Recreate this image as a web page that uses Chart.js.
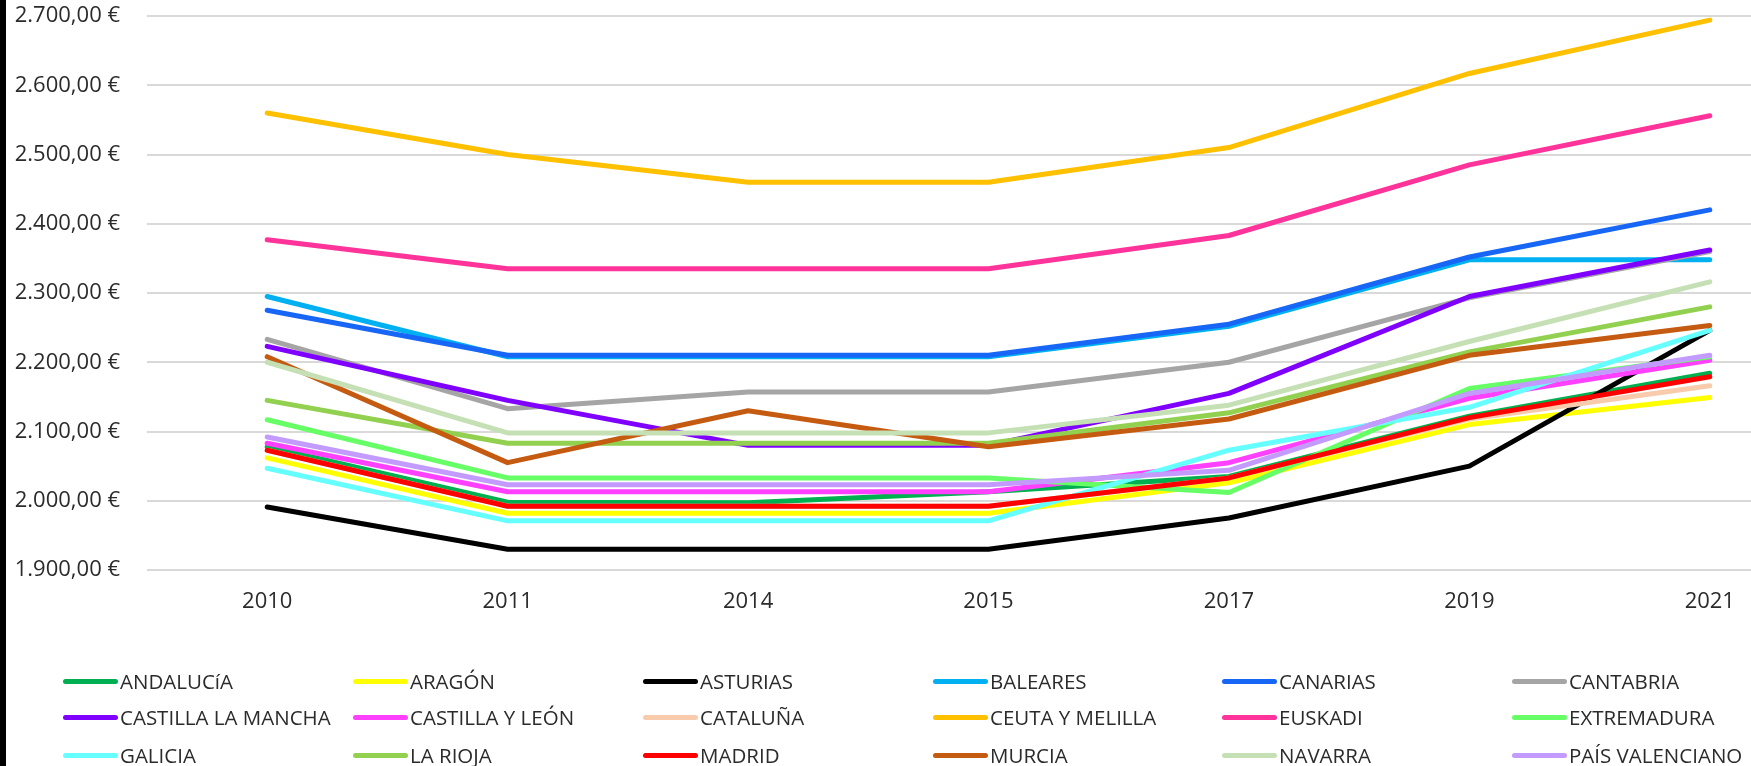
<!DOCTYPE html>
<html>
<head>
<meta charset="utf-8">
<script src="https://cdn.jsdelivr.net/npm/chart.js@4.4.1/dist/chart.umd.min.js"></script>
<style>
  html, body { margin: 0; padding: 0; background: #fff; overflow: hidden; }
  #wrap { position: relative; width: 1751px; height: 766px; overflow: hidden; }
  #chart { position: absolute; left: 0; top: 0; }
  #bar { position: absolute; left: 0; top: 0; width: 6px; height: 766px; background: #000; z-index: 5; }
  #legend { position: absolute; left: 0; top: 0; width: 1751px; height: 766px; pointer-events: none; }
  .item { position: absolute; display: flex; align-items: center; height: 28px;
          font-family: "Open Sans", sans-serif; font-size: 20.5px; color: #2b2b2b; white-space: nowrap; }
  .item span.sw { display: inline-block; width: 55px; height: 5px; border-radius: 3px; margin-right: 2px; }
</style>
</head>
<body>
<div id="wrap">
  <canvas id="chart" width="1830" height="640"></canvas>
  <div id="legend"></div>
  <div id="bar"></div>
</div>
<script>
// years on the x axis
const years = ["2010", "2011", "2014", "2015", "2017", "2019", "2021"];

// one row per comunidad, values in euros
const andalucia      = [2078, 1998, 1997, 2013, 2035, 2122, 2184];
const aragon         = [2062, 1982, 1982, 1982, 2026, 2110, 2149];
const asturias       = [1991, 1930, 1930, 1930, 1975, 2050, 2246];
const baleares       = [2295, 2208, 2208, 2208, 2252, 2348, 2348];
const canarias       = [2275, 2210, 2210, 2210, 2255, 2352, 2420];
const cantabria      = [2233, 2133, 2157, 2157, 2200, 2293, 2360];
const castillaMancha = [2223, 2145, 2080, 2080, 2155, 2295, 2362];
const castillaLeon   = [2083, 2013, 2013, 2013, 2055, 2148, 2203];
const cataluna       = [2073, 1992, 1992, 1992, 2033, 2118, 2166];
const ceutaMelilla   = [2560, 2500, 2460, 2460, 2510, 2617, 2694];
const euskadi        = [2377, 2335, 2335, 2335, 2383, 2485, 2556];
const extremadura    = [2117, 2033, 2033, 2033, 2012, 2162, 2208];
const galicia        = [2047, 1971, 1971, 1971, 2073, 2135, 2246];
const laRioja        = [2145, 2083, 2083, 2083, 2127, 2215, 2280];
const madrid         = [2073, 1992, 1992, 1992, 2033, 2120, 2179];
const murcia         = [2208, 2055, 2130, 2078, 2118, 2210, 2253];
const navarra        = [2200, 2098, 2098, 2098, 2138, 2230, 2316];
const paisValenciano = [2092, 2023, 2023, 2023, 2044, 2155, 2210];

const seriesNames = ["ANDALUCíA", "ARAGÓN", "ASTURIAS", "BALEARES", "CANARIAS", "CANTABRIA",
  "CASTILLA LA MANCHA", "CASTILLA Y LEÓN", "CATALUÑA", "CEUTA Y MELILLA", "EUSKADI", "EXTREMADURA",
  "GALICIA", "LA RIOJA", "MADRID", "MURCIA", "NAVARRA", "PAÍS VALENCIANO"];
const seriesValues = [andalucia, aragon, asturias, baleares, canarias, cantabria,
  castillaMancha, castillaLeon, cataluna, ceutaMelilla, euskadi, extremadura,
  galicia, laRioja, madrid, murcia, navarra, paisValenciano];
const seriesColors = ["#00B050", "#FFFF00", "#000000", "#00B0F0", "#1766F5", "#A5A5A5",
  "#7F00FF", "#FF40FF", "#F8CBAD", "#FFC000", "#FF3399", "#66FF66",
  "#66FFFF", "#92D050", "#FF0000", "#C55A11", "#C5E0B4", "#C39BFF"];

// 2700 -> "2.700,00 €"
function euro(v) {
  const s = Math.round(v).toString();
  const grouped = s.replace(/\B(?=(\d{3})+(?!\d))/g, ".");
  return grouped + ",00 €";
}

const AXIS_FONT = { family: "Open Sans", size: 22 };

const datasets = seriesNames.map((name, i) => ({
  label: name,
  data: seriesValues[i],
  borderColor: seriesColors[i],
  backgroundColor: seriesColors[i],
  borderWidth: 5,
  borderCapStyle: "round",
  borderJoinStyle: "round",
  pointRadius: 0,
  tension: 0,
  fill: false,
  order: seriesNames.length - i   // later series on top, like the original
}));

const ctx = document.getElementById("chart").getContext("2d");
const chart = new Chart(ctx, {
  type: "line",
  data: { labels: years, datasets },
  options: {
    responsive: false,
    animation: false,
    devicePixelRatio: 1,
    layout: { padding: { top: 16, left: 0, right: 0, bottom: 0 } },
    plugins: {
      legend: { display: false },
      tooltip: { enabled: false }
    },
    scales: {
      x: {
        offset: true,
        grid: { display: false, drawTicks: false },
        border: { display: false },
        ticks: { color: "#2b2b2b", font: AXIS_FONT, padding: 19, maxRotation: 0 },
        afterFit: s => { s.height = 70; }
      },
      y: {
        min: 1900,
        max: 2700,
        grid: { color: "#D9D9D9", lineWidth: 2, drawTicks: false },
        border: { display: false },
        ticks: { stepSize: 100, color: "#2b2b2b", font: AXIS_FONT, padding: 27, callback: v => euro(v) },
        afterFit: s => { s.width = 147; s.paddingTop = 0; s.paddingBottom = 0; }
      }
    }
  }
});

// legend laid out in 6 columns x 3 rows like the spreadsheet
const legendEl = document.getElementById("legend");
const colX = [63, 353, 643, 933, 1222, 1512];
const rowY = [681, 717, 755];
chart.data.datasets.forEach((d, i) => {
  const item = document.createElement("div");
  item.className = "item";
  item.style.left = colX[i % 6] + "px";
  item.style.top = (rowY[Math.floor(i / 6)] - 14) + "px";
  const sw = document.createElement("span");
  sw.className = "sw";
  sw.style.background = d.borderColor;
  item.appendChild(sw);
  item.appendChild(document.createTextNode(d.label));
  legendEl.appendChild(item);
});
</script>
</body>
</html>
